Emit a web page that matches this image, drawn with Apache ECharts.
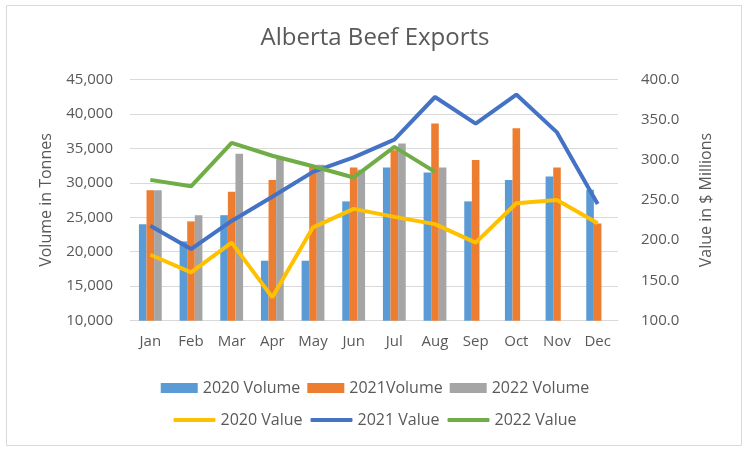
<!DOCTYPE html>
<html>
<head>
<meta charset="utf-8">
<script src="https://cdn.jsdelivr.net/npm/echarts@6/dist/echarts.min.js"></script>
<style>
html,body{margin:0;padding:0;background:#fff;}
#c{width:750px;height:452px;}
</style>
</head>
<body>
<div id="c"></div>
<script>
var months = ['Jan','Feb','Mar','Apr','May','Jun','Jul','Aug','Sep','Oct','Nov','Dec'];
var vol2020 = [24000, 21500, 25300, 18700, 18700, 27300, 32200, 31500, 27300, 30400, 30900, 29000];
var vol2021 = [28900, 24400, 28700, 30400, 32300, 32200, 34700, 38600, 33300, 37900, 32200, 24100];
var vol2022 = [28900, 25300, 34200, 33600, 32600, 31900, 35700, 32200, null, null, null, null];
var val2020 = [182, 160, 197, 129, 216, 239, 229, 220, 197, 246, 250, 221];
var val2021 = [218, 189, 224, 254, 285, 303, 325, 378, 345, 381, 334, 245];
var val2022 = [275, 267, 321, 305, 292, 278, 316, 285, null, null, null, null];
var volTicks = {min: 10000, max: 45000, interval: 5000};
var valTicks = {min: 100, max: 400, interval: 50};

var FONT = 'Open Sans';
var TXT = '#595959';
var chart = echarts.init(document.getElementById('c'), null, {renderer: 'canvas'});
function bar(name, data, color) {
  return {name: name, type: 'bar', data: data, barWidth: 7.6, barGap: '0%',
    itemStyle: {color: color}, yAxisIndex: 0, animation: false};
}
function line(name, data, color) {
  return {name: name, type: 'line', data: data, yAxisIndex: 1, symbol: 'none',
    lineStyle: {color: color, width: 4}, itemStyle: {color: color}, animation: false};
}
chart.setOption({
  animation: false,
  title: {text: 'Alberta Beef Exports', left: 'center', top: 21,
    textStyle: {fontFamily: FONT, fontSize: 24, fontWeight: 'normal', color: TXT}},
  graphic: [{type: 'rect', shape: {x: 6.5, y: 5.5, width: 735, height: 440},
    style: {fill: 'none', stroke: '#d9d9d9', lineWidth: 1}, silent: true}],
  legend: [{
    data: ['2020 Volume', '2021Volume', '2022 Volume'], top: 375, left: 'center',
    itemWidth: 37, itemHeight: 10, itemGap: 7, icon: 'rect',
    textStyle: {fontFamily: FONT, fontSize: 16, color: TXT}
  }, {
    data: [{name: '2020 Value', icon: 'roundRect'}, {name: '2021 Value', icon: 'roundRect'},
      {name: '2022 Value', icon: 'roundRect'}],
    top: 407, left: 'center',
    itemWidth: 42, itemHeight: 4, itemGap: 8,
    textStyle: {fontFamily: FONT, fontSize: 16, color: TXT}
  }],
  grid: {left: 130, right: 132, top: 79.3, bottom: 131.3, containLabel: false},
  xAxis: {type: 'category', data: months,
    axisLine: {show: true, lineStyle: {color: '#d9d9d9'}}, axisTick: {show: false},
    axisLabel: {fontFamily: FONT, fontSize: 15, color: TXT, margin: 14}},
  yAxis: [{
    type: 'value', min: volTicks.min, max: volTicks.max, interval: volTicks.interval,
    name: 'Volume in Tonnes', nameLocation: 'middle', nameGap: 76, nameRotate: 90,
    nameTextStyle: {fontFamily: FONT, fontSize: 16, color: TXT},
    axisLine: {show: false}, axisTick: {show: false},
    axisLabel: {fontFamily: FONT, fontSize: 15, color: TXT, margin: 17,
      formatter: function (v) { return v.toLocaleString('en-US'); }},
    splitLine: {lineStyle: {color: '#d9d9d9'}}
  }, {
    type: 'value', min: valTicks.min, max: valTicks.max, interval: valTicks.interval,
    name: 'Value in $ Millions', nameLocation: 'middle', nameGap: 80, nameRotate: 90,
    nameTextStyle: {fontFamily: FONT, fontSize: 16, color: TXT},
    axisLine: {show: false}, axisTick: {show: false},
    axisLabel: {fontFamily: FONT, fontSize: 15, color: TXT, margin: 23,
      formatter: function (v) { return v.toFixed(1); }},
    splitLine: {show: false}
  }],
  series: [
    bar('2020 Volume', vol2020, '#5B9BD5'),
    bar('2021Volume', vol2021, '#ED7D31'),
    bar('2022 Volume', vol2022, '#A5A5A5'),
    line('2020 Value', val2020, '#FFC000'),
    line('2021 Value', val2021, '#4472C4'),
    line('2022 Value', val2022, '#70AD47')
  ]
});
</script>
</body>
</html>
